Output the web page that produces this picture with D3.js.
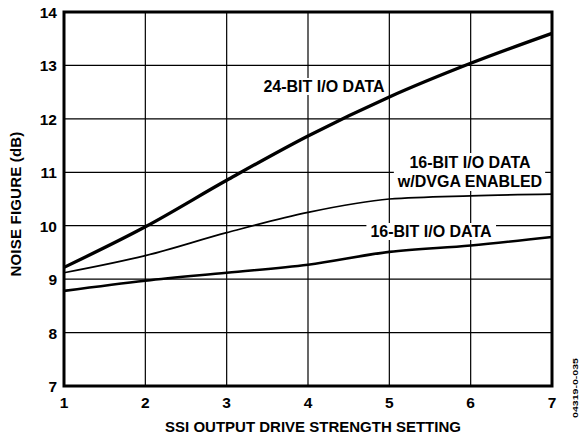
<!DOCTYPE html>
<html><head><meta charset="utf-8">
<script src="https://cdn.jsdelivr.net/npm/d3@7"></script>
<style>body{margin:0;background:#fff}svg{display:block}text{font-family:"Liberation Sans",Arial,sans-serif;font-weight:bold}</style>
</head><body>
<svg id="c" width="583" height="434"></svg>
<script>
const xSettings = [1,2,3,4,5,6,7];
const bit24 = [9.22,9.98,10.85,11.68,12.41,13.04,13.6];
const bit16Dvga = [9.12,9.44,9.87,10.25,10.5,10.56,10.59];
const bit16 = [8.78,8.97,9.12,9.27,9.51,9.63,9.79];
const yTicks = [7,8,9,10,11,12,13,14];
const xTicks = [1,2,3,4,5,6,7];

const svg = d3.select("#c");
const L=64,R=552,T=12,B=386;
const x = d3.scaleLinear().domain([1,7]).range([L,R]);
const y = d3.scaleLinear().domain([7,14]).range([B,T]);

const g = svg.append("g");
g.selectAll(".vg").data(xTicks).join("line").attr("x1",d=>x(d)).attr("x2",d=>x(d)).attr("y1",T).attr("y2",B).attr("stroke","#000").attr("stroke-width",1.2);
g.selectAll(".hg").data(yTicks).join("line").attr("y1",d=>y(d)).attr("y2",d=>y(d)).attr("x1",L).attr("x2",R).attr("stroke","#000").attr("stroke-width",1.2);

const series = [
  {v:bit24,w:3.3},
  {v:bit16Dvga,w:1.7},
  {v:bit16,w:2.6}
];
const line = d3.line().x((d,i)=>x(xSettings[i])).y(d=>y(d)).curve(d3.curveMonotoneX);
series.forEach(s=>{
  g.append("path").attr("d",line(s.v)).attr("fill","none").attr("stroke","#000").attr("stroke-width",s.w);
});

function label(lines,cx,cy,padX,padY){
  const grp = svg.append("g");
  const txt = grp.append("text").attr("text-anchor","middle").attr("font-size",16);
  lines.forEach((l,i)=>txt.append("tspan").attr("x",cx).attr("y",cy+i*19).text(l));
  const bb = txt.node().getBBox();
  grp.insert("rect","text").attr("x",bb.x-padX).attr("y",bb.y-padY).attr("width",bb.width+2*padX).attr("height",bb.height+2*padY).attr("fill","#fff");
}
label(["24-BIT I/O DATA"],324,92,3,0);
label(["16-BIT I/O DATA","w/DVGA ENABLED"],470,168,3,1);
label(["16-BIT I/O DATA"],431,237,4,0);

svg.append("rect").attr("x",L).attr("y",T).attr("width",R-L).attr("height",B-T).attr("fill","none").attr("stroke","#000").attr("stroke-width",3);

svg.selectAll(".yt").data(yTicks).join("text").attr("x",L-7).attr("y",d=>y(d)+6).attr("text-anchor","end").attr("font-size",15.5).text(d=>d);
svg.selectAll(".xt").data(xTicks).join("text").attr("x",d=>x(d)).attr("y",B+22).attr("text-anchor","middle").attr("font-size",15.5).text(d=>d);

svg.append("text").attr("x",313).attr("y",432).attr("text-anchor","middle").attr("font-size",15).text("SSI OUTPUT DRIVE STRENGTH SETTING");
svg.append("text").attr("transform",`translate(21,204) rotate(-90)`).attr("text-anchor","middle").attr("font-size",15).attr("letter-spacing",0.2).text("NOISE FIGURE (dB)");
svg.append("text").attr("transform","translate(578,388) rotate(-90)").attr("text-anchor","middle").attr("font-size",7.5).attr("textLength",60).attr("lengthAdjust","spacingAndGlyphs").text("04319-0-035");
</script>
</body></html>
